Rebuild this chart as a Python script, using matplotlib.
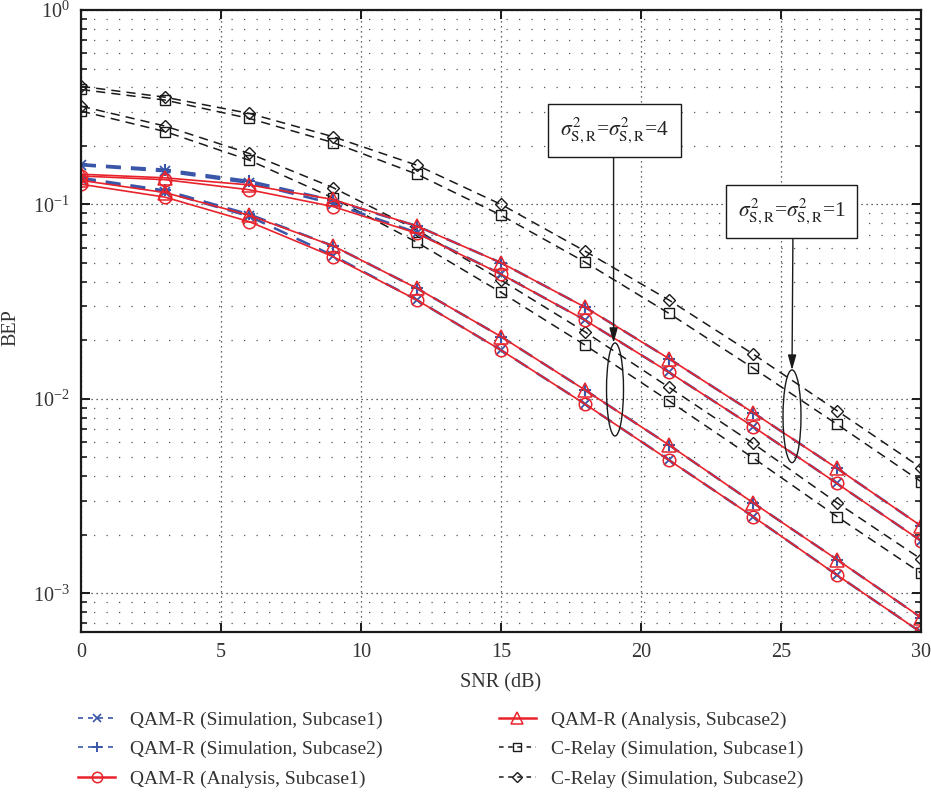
import matplotlib
matplotlib.use("Agg")
import matplotlib.pyplot as plt
from matplotlib.patches import Ellipse
from matplotlib.ticker import LogLocator, LogFormatterMathtext, NullFormatter, MultipleLocator

plt.rcParams["font.family"] = ["Liberation Serif", "DejaVu Serif"]
plt.rcParams["mathtext.fontset"] = "stix"

# SNR grid (dB)
snr = [0, 3, 6, 9, 12, 15, 18, 21, 24, 27, 30]

# sigma^2 = 1
qam_sim_sub1_s1 = [0.159, 0.148, 0.129, 0.101, 0.0715, 0.0438, 0.0254, 0.0137, 0.0072, 0.00367, 0.00186]
qam_sim_sub2_s1 = [0.161, 0.151, 0.132, 0.105, 0.0774, 0.0501, 0.0296, 0.0161, 0.0085, 0.00439, 0.00222]
qam_ana_sub1_s1 = [0.140, 0.134, 0.119, 0.0975, 0.0710, 0.0438, 0.0254, 0.0137, 0.0072, 0.00367, 0.00186]
qam_ana_sub2_s1 = [0.143, 0.137, 0.126, 0.106, 0.0774, 0.0501, 0.0296, 0.0161, 0.0085, 0.00439, 0.00222]
crelay_sub1_s1 = [0.390, 0.344, 0.277, 0.208, 0.143, 0.088, 0.0505, 0.0275, 0.0144, 0.0074, 0.00375]
crelay_sub2_s1 = [0.405, 0.356, 0.294, 0.223, 0.159, 0.100, 0.0575, 0.0322, 0.0170, 0.00869, 0.00442]

# sigma^2 = 4
qam_sim_sub1_s4 = [0.135, 0.116, 0.087, 0.0545, 0.0322, 0.0178, 0.0094, 0.00484, 0.00248, 0.00124, 0.00063]
qam_sim_sub2_s4 = [0.137, 0.118, 0.089, 0.0612, 0.0370, 0.0209, 0.0111, 0.00579, 0.00292, 0.00149, 0.00075]
qam_ana_sub1_s4 = [0.127, 0.109, 0.0816, 0.0539, 0.0322, 0.0178, 0.0094, 0.00484, 0.00248, 0.00124, 0.00063]
qam_ana_sub2_s4 = [0.133, 0.115, 0.088, 0.0612, 0.0370, 0.0209, 0.0111, 0.00579, 0.00292, 0.00149, 0.00075]
crelay_sub1_s4 = [0.302, 0.237, 0.169, 0.108, 0.0638, 0.0353, 0.0189, 0.00975, 0.00497, 0.00248, 0.00127]
crelay_sub2_s4 = [0.320, 0.253, 0.183, 0.122, 0.0738, 0.0408, 0.0221, 0.01146, 0.0059, 0.00292, 0.00150]

legend_labels = [
    "QAM-R (Simulation, Subcase1)",
    "QAM-R (Simulation, Subcase2)",
    "QAM-R (Analysis, Subcase1)",
    "QAM-R (Analysis, Subcase2)",
    "C-Relay (Simulation, Subcase1)",
    "C-Relay (Simulation, Subcase2)",
]

BLUE = "#3a56a8"
RED = "#e8232b"
BLACK = "#1a1a1a"
DASH = (0, (6, 4))

fig = plt.figure(figsize=(9.31, 7.92), dpi=100)
ax = fig.add_axes([0.0870, 0.2020, 0.9023, 0.7854])

styles = [
    dict(color=BLACK, ls=DASH, lw=1.1, marker="s", ms=7, mfc="none", mec=BLACK, mew=1.0),
    dict(color=BLACK, ls=DASH, lw=1.1, marker="D", ms=6.5, mfc="none", mec=BLACK, mew=1.0),
    dict(color=BLUE, ls=DASH, lw=1.8, marker="x", ms=7, mec=BLUE, mew=1.3),
    dict(color=BLUE, ls=DASH, lw=1.8, marker="+", ms=9, mec=BLUE, mew=1.5),
    dict(color=RED, ls="-", lw=1.2, marker="o", ms=9, mfc="none", mec=RED, mew=1.1),
    dict(color=RED, ls="-", lw=1.2, marker="^", ms=9.5, mfc="none", mec=RED, mew=1.1),
]

groups = [
    (crelay_sub1_s1, crelay_sub1_s4),
    (crelay_sub2_s1, crelay_sub2_s4),
    (qam_sim_sub1_s1, qam_sim_sub1_s4),
    (qam_sim_sub2_s1, qam_sim_sub2_s4),
    (qam_ana_sub1_s1, qam_ana_sub1_s4),
    (qam_ana_sub2_s1, qam_ana_sub2_s4),
]

for st, (a, b) in zip(styles, groups):
    ax.plot(snr, a, **st)
    ax.plot(snr, b, **st)

# Compact legend proxies: short dashes, small markers
legend_styles = [
    dict(color=BLACK, ls=(0, (3, 3)), lw=1.1, marker="s", ms=5.5, mfc="none", mec=BLACK, mew=1.0),
    dict(color=BLACK, ls=(0, (3, 3)), lw=1.1, marker="D", ms=5, mfc="none", mec=BLACK, mew=1.0),
    dict(color=BLUE, ls=(0, (3, 3)), lw=1.2, marker="x", ms=5.5, mec=BLUE, mew=1.2),
    dict(color=BLUE, ls=(0, (3, 3)), lw=1.2, marker="+", ms=7, mec=BLUE, mew=1.4),
    dict(color=RED, ls="-", lw=1.8, marker="o", ms=7.5, mfc="none", mec=RED, mew=1.1),
    dict(color=RED, ls="-", lw=1.8, marker="^", ms=8, mfc="none", mec=RED, mew=1.1),
]
proxies = [plt.Line2D([], [], **st) for st in legend_styles]

ax.set_yscale("log")
ax.set_xlim(0, 30)
ax.set_ylim(6.32e-4, 1.0)
ax.xaxis.set_major_locator(MultipleLocator(5))
ax.yaxis.set_major_locator(LogLocator(base=10, numticks=10))
ax.yaxis.set_minor_locator(LogLocator(base=10, subs=range(2, 10), numticks=20))
ax.yaxis.set_major_formatter(LogFormatterMathtext())
ax.yaxis.set_minor_formatter(NullFormatter())

ax.grid(True, which="major", axis="both", color="#333333", lw=0.9, ls=(0, (1, 3)))
ax.grid(True, which="minor", axis="y", color="#555555", lw=0.9, ls=(0, (1, 9)))
ax.set_axisbelow(True)

for sp in ax.spines.values():
    sp.set_linewidth(1.6)
    sp.set_color(BLACK)
ax.tick_params(which="both", direction="in", top=True, right=True, colors=BLACK, labelsize=14.5)
ax.tick_params(which="major", length=6.5, width=1.4, pad=8)
ax.tick_params(which="minor", length=4.0, width=1.2)
for lbl in ax.get_xticklabels() + ax.get_yticklabels():
    lbl.set_color("#333333")

ax.set_xlabel("SNR (dB)", fontsize=14.5, color="#333333", labelpad=8)
ax.set_ylabel("BEP", fontsize=14.5, color="#333333")
ax.yaxis.set_label_coords(-0.072, 0.49)

# Annotation ellipses and callout boxes (axes fractions)
tr = ax.transAxes
ax.add_patch(Ellipse((0.6357, 0.3899), 0.0202, 0.1495, transform=tr, fill=False, ec=BLACK, lw=1.0, zorder=5))
ax.add_patch(Ellipse((0.8464, 0.3468), 0.0214, 0.1490, transform=tr, fill=False, ec=BLACK, lw=1.0, zorder=5))

arrow = dict(arrowstyle="-|>,head_length=0.9,head_width=0.25", color=BLACK, lw=1.0, shrinkA=0, shrinkB=0)
ax.annotate("", xy=(0.634, 0.4646), xytext=(0.634, 0.7685), xycoords=tr, textcoords=tr, arrowprops=arrow, zorder=6)
ax.annotate("", xy=(0.8464, 0.421), xytext=(0.8475, 0.638), xycoords=tr, textcoords=tr, arrowprops=arrow, zorder=6)

box = dict(boxstyle="square,pad=0.55", fc="white", ec=BLACK, lw=1.0)
ax.text(0.635, 0.806, r"$\sigma^2_{\mathrm{S,R}}$=$\sigma^2_{\mathrm{S,R}}$=4", transform=tr,
        ha="center", va="center", fontsize=15.5, color="#222222", bbox=box, zorder=7)
ax.text(0.846, 0.676, r"$\sigma^2_{\mathrm{S,R}}$=$\sigma^2_{\mathrm{S,R}}$=1", transform=tr,
        ha="center", va="center", fontsize=15.5, color="#222222", bbox=box, zorder=7)

order = [2, 3, 4, 5, 0, 1]
leg = fig.legend([proxies[i] for i in order], legend_labels, loc="upper left",
                 bbox_to_anchor=(0.084, 0.102), ncol=2, frameon=False,
                 fontsize=14, handlelength=1.9, handletextpad=0.75, columnspacing=6.0,
                 labelspacing=0.6, borderpad=0, borderaxespad=0)
for t in leg.get_texts():
    t.set_color("#333333")

fig.savefig("out.png", dpi=100)
